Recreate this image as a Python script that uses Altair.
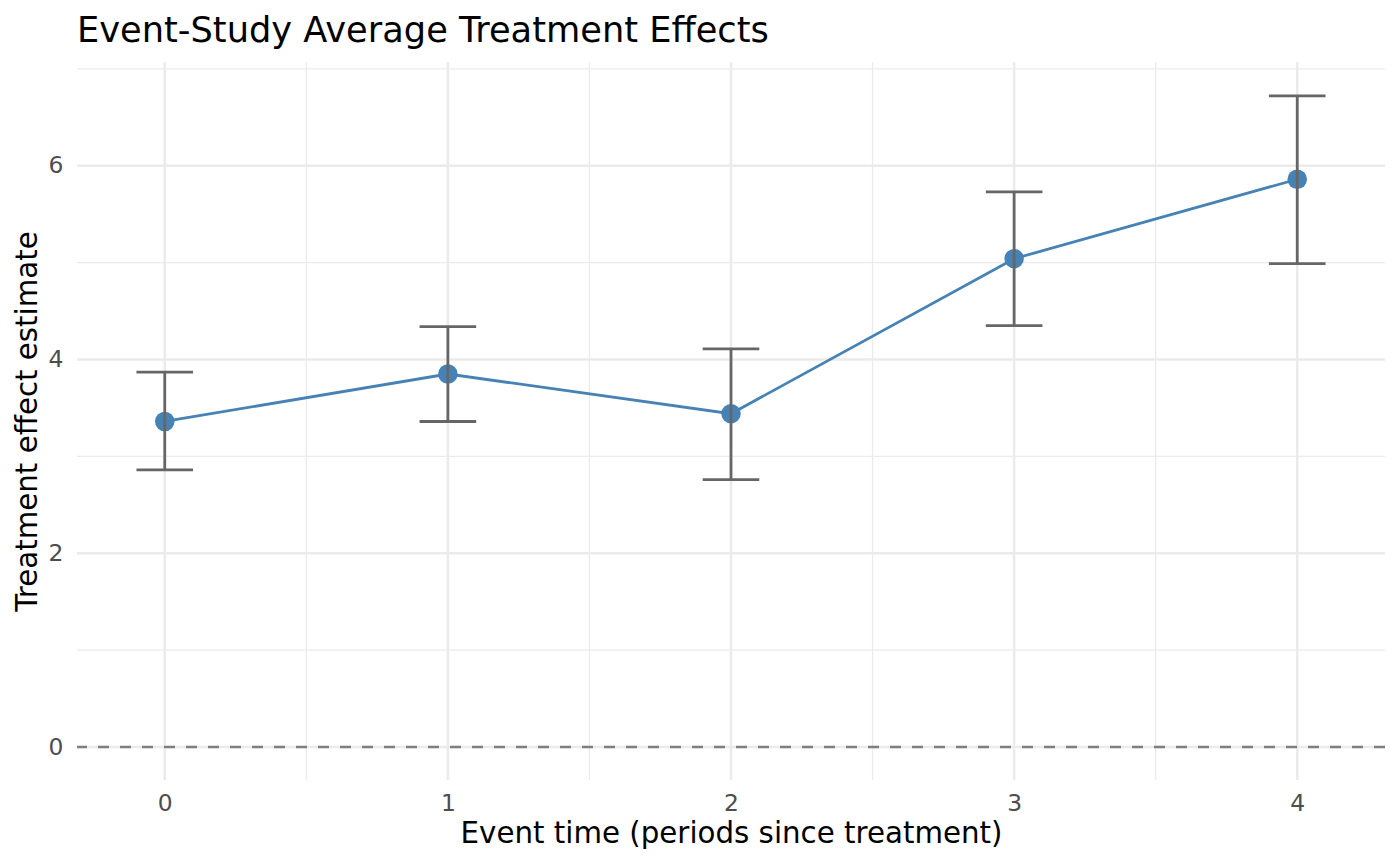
import altair as alt
import pandas as pd

event_time = [0, 1, 2, 3, 4]
estimate = [3.36, 3.85, 3.44, 5.04, 5.86]
ci_low = [2.86, 3.36, 2.76, 4.35, 4.99]
ci_high = [3.87, 4.34, 4.11, 5.73, 6.72]
x_minor = [0.5, 1.5, 2.5, 3.5]
y_minor = [1, 3, 5, 7]
x_major = [0, 1, 2, 3, 4]
y_major = [0, 2, 4, 6]
zero_line = [0]

df = pd.DataFrame({"t": event_time, "est": estimate, "lo": ci_low, "hi": ci_high})
cap_half = 0.1
df["cl"] = df["t"] - cap_half
df["cr"] = df["t"] + cap_half

XD = [-0.31, 4.31]
YD = [-0.34, 7.07]
xs = alt.Scale(domain=XD, nice=False, zero=False)
ys = alt.Scale(domain=YD, nice=False, zero=False)

xaxis = alt.Axis(values=x_major, title="Event time (periods since treatment)",
                 format="d", grid=False, domain=False, ticks=False,
                 labelPadding=12, titlePadding=5)
yaxis = alt.Axis(values=y_major, title="Treatment effect estimate",
                 format="d", grid=False, domain=False, ticks=False,
                 labelPadding=14, titlePadding=6)

GRID = "#EBEBEB"

xmin_df = pd.DataFrame({"x": x_minor})
ymin_df = pd.DataFrame({"y": y_minor})
xmaj_df = pd.DataFrame({"x": x_major})
ymaj_df = pd.DataFrame({"y": y_major})

minor_x = alt.Chart(xmin_df).mark_rule(color=GRID, strokeWidth=1.3).encode(
    x=alt.X("x:Q", scale=xs, axis=xaxis)
)
minor_y = alt.Chart(ymin_df).mark_rule(color=GRID, strokeWidth=1.3).encode(
    y=alt.Y("y:Q", scale=ys, axis=yaxis)
)
major_x = alt.Chart(xmaj_df).mark_rule(color=GRID, strokeWidth=2.5).encode(
    x=alt.X("x:Q", scale=xs, axis=xaxis)
)
major_y = alt.Chart(ymaj_df).mark_rule(color=GRID, strokeWidth=2.5).encode(
    y=alt.Y("y:Q", scale=ys, axis=yaxis)
)

zero = alt.Chart(pd.DataFrame({"y": zero_line})).mark_rule(
    color="#7F7F7F", strokeWidth=2.6, strokeDash=[11, 11]
).encode(y=alt.Y("y:Q", scale=ys, axis=yaxis))

base = alt.Chart(df)

line = base.mark_line(color="#4682B4", strokeWidth=2.8).encode(
    x=alt.X("t:Q", scale=xs, axis=xaxis),
    y=alt.Y("est:Q", scale=ys, axis=yaxis),
)
pts = base.mark_circle(color="#4682B4", opacity=1, size=380).encode(
    x=alt.X("t:Q", scale=xs, axis=xaxis),
    y=alt.Y("est:Q", scale=ys, axis=yaxis),
)

EB = "#666666"
err_v = base.mark_rule(color=EB, strokeWidth=2.8).encode(
    x=alt.X("t:Q", scale=xs, axis=xaxis),
    y=alt.Y("lo:Q", scale=ys, axis=yaxis), y2="hi:Q"
)
cap_lo = base.mark_rule(color=EB, strokeWidth=2.8).encode(
    x=alt.X("cl:Q", scale=xs, axis=xaxis), x2="cr:Q",
    y=alt.Y("lo:Q", scale=ys, axis=yaxis)
)
cap_hi = base.mark_rule(color=EB, strokeWidth=2.8).encode(
    x=alt.X("cl:Q", scale=xs, axis=xaxis), x2="cr:Q",
    y=alt.Y("hi:Q", scale=ys, axis=yaxis)
)

chart = alt.layer(
    minor_x, minor_y, major_x, major_y, zero, line, pts, err_v, cap_lo, cap_hi
).properties(
    width=1308, height=718,
    title=alt.TitleParams("Event-Study Average Treatment Effects", anchor="start",
                          fontSize=35.2, font="DejaVu Sans", fontWeight="normal",
                          color="black", offset=12),
    padding={"left": 69, "top": 54, "right": 7, "bottom": 70},
    autosize=alt.AutoSizeParams(type="none"),
).configure_view(stroke=None).configure_axis(
    labelFont="DejaVu Sans", titleFont="DejaVu Sans", labelFontSize=23.4,
    titleFontSize=29.3, labelColor="#4D4D4D", titleColor="black",
    titleFontWeight="normal"
).configure_title(frame="group")

chart.save("out.html", embed_options={"renderer": "svg", "actions": False})
